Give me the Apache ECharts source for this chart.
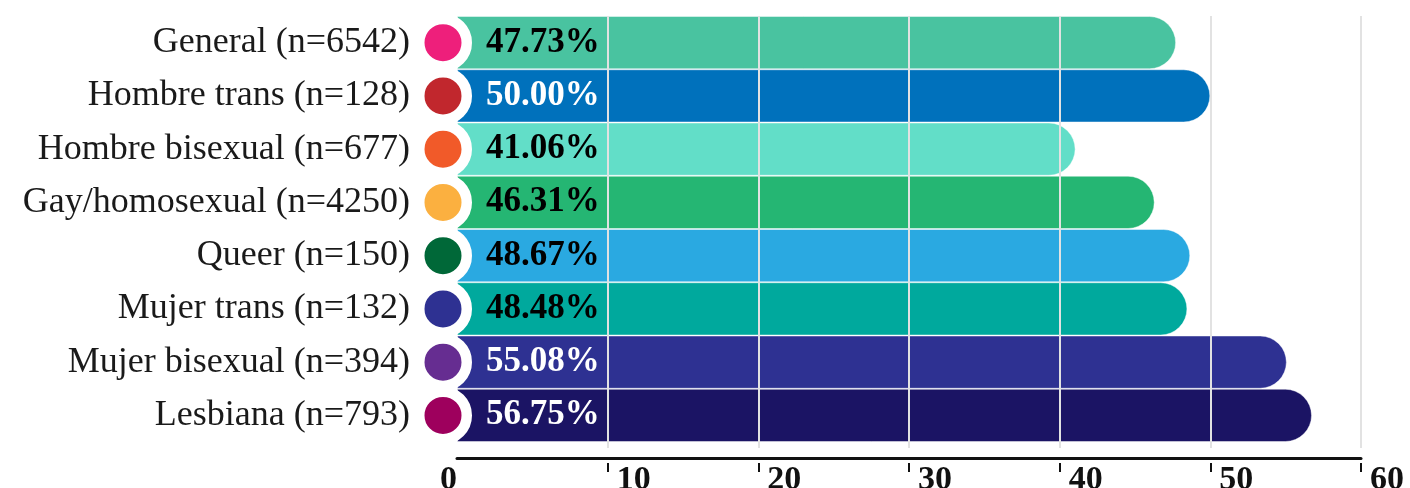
<!DOCTYPE html>
<html>
<head>
<meta charset="utf-8">
<script src="https://cdn.jsdelivr.net/npm/echarts@6/dist/echarts.min.js"></script>
<style>
  html, body { margin: 0; padding: 0; background: #ffffff; }
  #chart { width: 1410px; height: 488px; }
</style>
</head>
<body>
<div id="chart"></div>
<script>
// Share of respondents per group (%)
const categories = [
  'General (n=6542)',
  'Hombre trans (n=128)',
  'Hombre bisexual (n=677)',
  'Gay/homosexual (n=4250)',
  'Queer (n=150)',
  'Mujer trans (n=132)',
  'Mujer bisexual (n=394)',
  'Lesbiana (n=793)'
];
const values = [47.73, 50.00, 41.06, 46.31, 48.67, 48.48, 55.08, 56.75];
const barColors = ['#49C3A0', '#0071BC', '#62DEC8', '#25B673', '#2AA9E1', '#00A99D', '#2E3192', '#1B1464'];
const dotColors = ['#EE1F7B', '#C1272D', '#F15A29', '#FBB040', '#006838', '#2E3192', '#662D91', '#9E005D'];
const labelColors = ['#000000', '#ffffff', '#000000', '#000000', '#000000', '#000000', '#ffffff', '#ffffff'];
const xTicks = [0, 10, 20, 30, 40, 50, 60];

const serif = '"Liberation Serif", "Times New Roman", serif';
const xMin = xTicks[0];
const xMax = xTicks[xTicks.length - 1];
const xStep = xTicks[1] - xTicks[0];

const chart = echarts.init(document.getElementById('chart'), null, { renderer: 'canvas' });

const gridBox = { left: 457, right: 49 };

const option = {
  animation: false,
  grid: [
    { left: gridBox.left, right: gridBox.right, top: 16, height: 426, containLabel: false, outerBoundsMode: 'none' },
    { left: gridBox.left, right: gridBox.right, top: 16, height: 432, containLabel: false, outerBoundsMode: 'none' }
  ],
  xAxis: [
    // value axis for the bars and dots
    {
      type: 'value', gridIndex: 0, min: xMin, max: xMax, interval: xStep,
      axisLine: { show: false }, axisTick: { show: false },
      axisLabel: { show: false }, splitLine: { show: false }
    },
    // vertical grid lines drawn over the bars
    {
      type: 'value', gridIndex: 1, min: xMin, max: xMax, interval: xStep, z: 5,
      axisLine: { show: false }, axisTick: { show: false }, axisLabel: { show: false },
      splitLine: { show: true, showMinLine: false, lineStyle: { color: '#e2e2e2', width: 2 } }
    },
    // baseline
    {
      type: 'value', gridIndex: 1, min: xMin, max: xMax, interval: xStep,
      position: 'bottom', offset: 10,
      axisLine: { show: true, lineStyle: { color: '#111111', width: 3 } },
      axisTick: { show: false }, axisLabel: { show: false }, splitLine: { show: false }
    },
    // detached tick marks and bold tick labels
    {
      type: 'value', gridIndex: 1, min: xMin, max: xMax, interval: xStep,
      position: 'bottom', offset: 15,
      axisLine: { show: false },
      axisTick: {
        show: true, length: 9, customValues: xTicks.slice(1),
        lineStyle: { color: '#111111', width: 2 }
      },
      axisLabel: {
        show: true, margin: 0, align: 'left', padding: [0, 0, 0, 9],
        alignMinLabel: 'right',
        fontFamily: serif, fontWeight: 'bold', fontSize: 34, color: '#111111',
        formatter: function (v) { return String(v); }
      },
      splitLine: { show: false }
    }
  ],
  yAxis: [
    {
      type: 'category', gridIndex: 0, data: categories, inverse: true,
      axisLine: { show: false }, axisTick: { show: false },
      axisLabel: { margin: 47, fontFamily: serif, fontSize: 36, color: '#1a1a1a' }
    },
    {
      type: 'value', gridIndex: 1, show: false
    }
  ],
  series: [
    {
      type: 'bar', xAxisIndex: 0, yAxisIndex: 0, z: 2,
      barCategoryGap: 0,
      data: values.map(function (v, i) {
        return {
          value: v,
          itemStyle: { color: barColors[i] },
          label: { color: labelColors[i] }
        };
      }),
      itemStyle: {
        borderRadius: [0, 27, 27, 0],
        borderColor: 'rgba(255,255,255,0.45)', borderWidth: 1
      },
      label: {
        show: true, position: 'insideLeft', distance: 29,
        fontFamily: serif, fontWeight: 'bold', fontSize: 35,
        formatter: function (p) { return p.value.toFixed(2) + '%'; }
      }
    },
    {
      type: 'scatter', xAxisIndex: 0, yAxisIndex: 0, z: 10,
      symbol: 'circle', symbolSize: 47.5, symbolOffset: [-14, 0],
      clip: false,
      data: categories.map(function (c, i) {
        return { value: [0, c], itemStyle: { color: dotColors[i] } };
      }),
      itemStyle: { opacity: 1, borderColor: '#ffffff', borderWidth: 10.5 },
      emphasis: { disabled: true }
    }
  ]
};

chart.setOption(option);
</script>
</body>
</html>
